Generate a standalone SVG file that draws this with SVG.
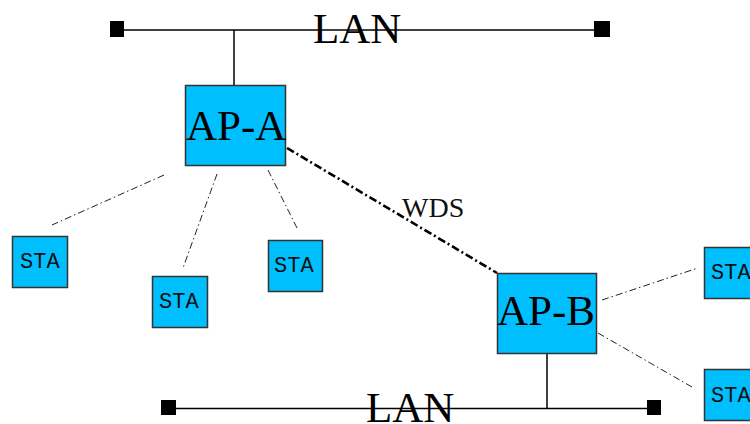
<svg xmlns="http://www.w3.org/2000/svg" width="750" height="424" viewBox="0 0 750 424">
<style>
.box{fill:#00BFFF;stroke:#333;stroke-width:1.5}
.wire{stroke:#000;stroke-width:1.5;fill:none}
.term{fill:#000}
.wl{stroke:#222;stroke-width:1;fill:none;stroke-dasharray:7 3 1.5 3}
.wds{stroke:#000;stroke-width:2.6;fill:none;stroke-dasharray:8 3 2 3}
.big{font-family:"Liberation Serif","Times New Roman",serif;font-size:43px;fill:#000}
.lbl{font-family:"Liberation Serif","Times New Roman",serif;font-size:28px;fill:#111}
.sta{font-family:"Liberation Mono","Courier New",monospace;font-size:22px;fill:#111}
</style>
<rect width="750" height="424" fill="#fff"/>
<g id="connectors">
<line class="wire" x1="117" y1="30" x2="602" y2="30"/>
<line class="wire" x1="234" y1="30" x2="234" y2="85"/>
<line class="wire" x1="168" y1="408.5" x2="654" y2="408.5"/>
<line class="wire" x1="547" y1="353" x2="547" y2="408.5"/>
<line class="wds" x1="287" y1="148" x2="497" y2="273"/>
<line class="wl" x1="164" y1="175" x2="52" y2="225"/>
<line class="wl" x1="217" y1="174" x2="183" y2="268"/>
<line class="wl" x1="268" y1="170" x2="297" y2="228"/>
<line class="wl" x1="602" y1="300" x2="698" y2="268"/>
<line class="wl" x1="598" y1="333" x2="692" y2="387"/>
</g>
<g id="lan-top">
<rect class="term" x="110" y="21" width="14" height="16"/>
<rect class="term" x="594" y="21" width="16" height="16"/>
<text class="big" x="313" y="43">LAN</text>
</g>
<g id="lan-bottom">
<rect class="term" x="161" y="400" width="15" height="15"/>
<rect class="term" x="647" y="400" width="14" height="15"/>
<text class="big" x="366" y="422">LAN</text>
</g>
<g id="ap-a">
<rect class="box" x="185.5" y="85.5" width="100" height="80"/>
<text class="big" x="186" y="140">AP-A</text>
</g>
<g id="ap-b">
<rect class="box" x="497.5" y="273.5" width="99" height="80"/>
<text class="big" x="497" y="325">AP-B</text>
</g>
<g id="wds-label">
<text class="lbl" x="402" y="217">WDS</text>
</g>
<g id="sta-1">
<rect class="box" x="12.5" y="236.5" width="55" height="51"/>
<text class="sta" x="20" y="268">STA</text>
</g>
<g id="sta-2">
<rect class="box" x="152.5" y="276.5" width="55" height="51"/>
<text class="sta" x="159" y="308">STA</text>
</g>
<g id="sta-3">
<rect class="box" x="268.5" y="240.5" width="54" height="51"/>
<text class="sta" x="274" y="272">STA</text>
</g>
<g id="sta-4">
<rect class="box" x="704.5" y="247.5" width="55" height="51"/>
<text class="sta" x="711" y="279">STA</text>
</g>
<g id="sta-5">
<rect class="box" x="704.5" y="369.5" width="55" height="51"/>
<text class="sta" x="711" y="402">STA</text>
</g>
</svg>
